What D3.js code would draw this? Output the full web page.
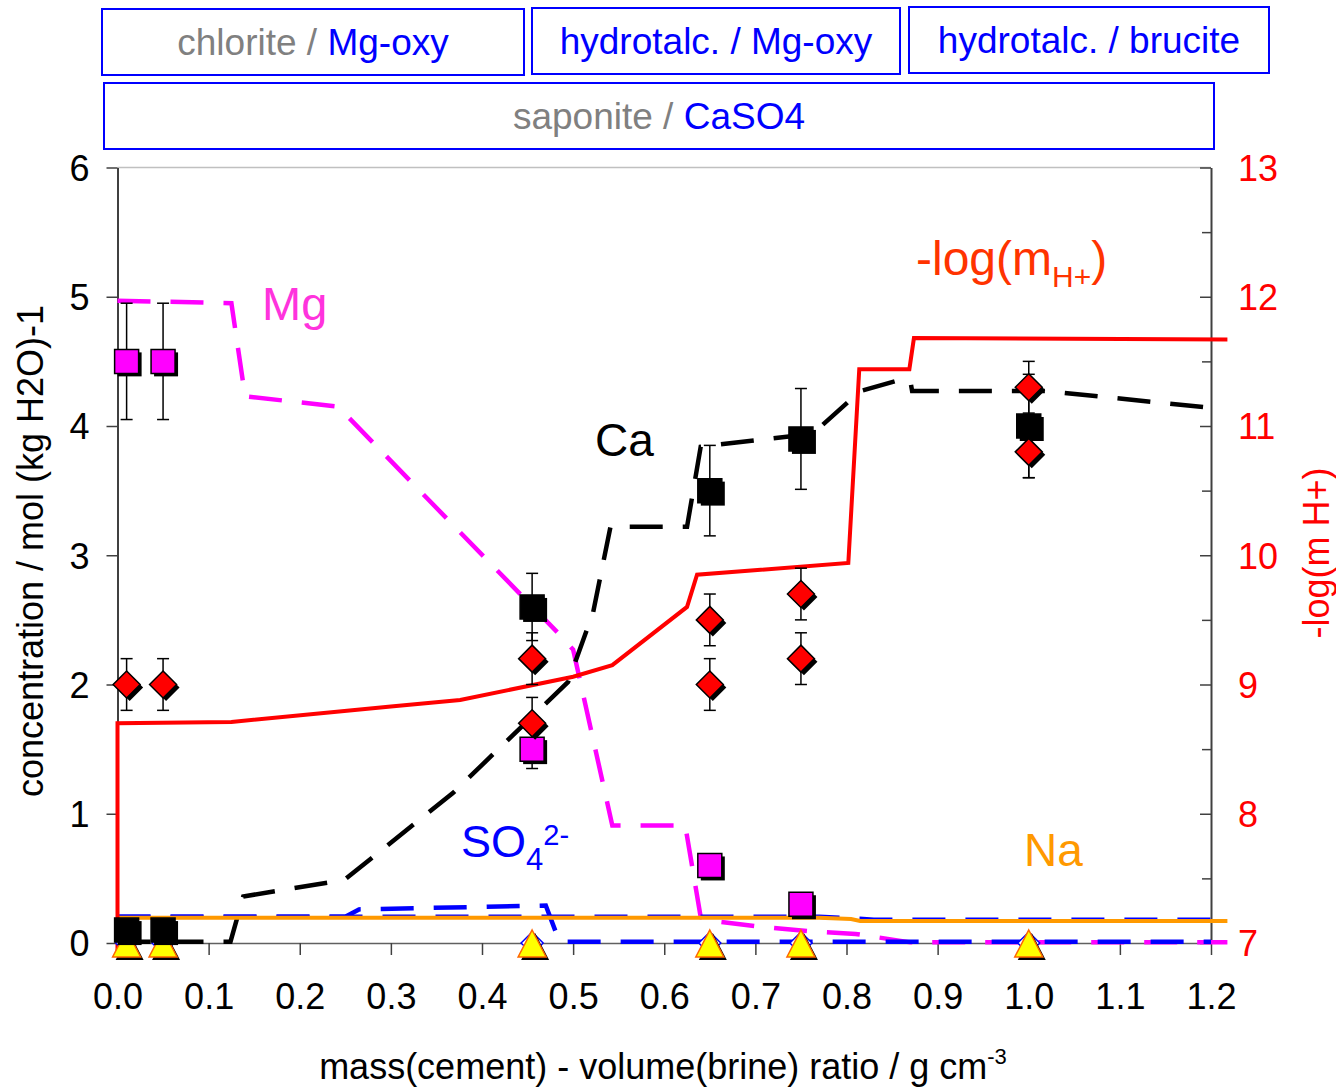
<!DOCTYPE html>
<html>
<head>
<meta charset="utf-8">
<script src="https://cdn.jsdelivr.net/npm/d3@7"></script>
<style>
  html, body { margin: 0; padding: 0; background: #fff; }
  svg { display: block; font-family: "Liberation Sans", Arial, Helvetica, sans-serif; }
</style>
</head>
<body>
<svg id="chart" width="1336" height="1088"></svg>
<script>
// ---------- axis ticks ----------
const xTickValues = [0, 0.1, 0.2, 0.3, 0.4, 0.5, 0.6, 0.7, 0.8, 0.9, 1.0, 1.1, 1.2];
const xTickLabels = ["0.0", "0.1", "0.2", "0.3", "0.4", "0.5", "0.6", "0.7", "0.8", "0.9", "1.0", "1.1", "1.2"];
const yLeftTicks = [0, 1, 2, 3, 4, 5, 6];
const yRightTicks = [7, 8, 9, 10, 11, 12, 13];
const yRightMinorTicks = [7.5, 8.5, 9.5, 10.5, 11.5, 12.5];

// ---------- phase assemblage labels ----------
// each entry: [grey part, blue part]
const phaseLabels = [
  ["chlorite / ", "Mg-oxy"],
  ["", "hydrotalc. / Mg-oxy"],
  ["", "hydrotalc. / brucite"],
  ["saponite / ", "CaSO4"]
];

// ---------- model curves: [ratio, value] ----------
const mgModel = [[0, 4.97], [0.125, 4.95], [0.14, 4.23], [0.242, 4.15], [0.486, 2.38], [0.5, 2.27],
  [0.543, 0.91], [0.623, 0.91], [0.64, 0.2], [0.66, 0.165], [0.7, 0.13], [0.76, 0.09], [0.81, 0.07],
  [0.87, 0.005], [1.218, 0.005]];
const caModel = [[0, 0.01], [0.124, 0.01], [0.138, 0.36], [0.249, 0.488], [0.368, 1.16], [0.4945, 2.02],
  [0.522, 2.56], [0.541, 3.22], [0.625, 3.22], [0.64, 3.84], [0.763, 3.94], [0.815, 4.27],
  [0.855, 4.35], [0.87, 4.35], [0.872, 4.27], [1.02, 4.27], [1.2, 4.14]];
const so4Model = [[0, 0.204], [0.25, 0.204], [0.265, 0.26], [0.47, 0.29], [0.485, 0.01], [1.2, 0.01]];
const flatBlueModel = [[0, 0.204], [0.77, 0.204], [0.81, 0.19], [0.83, 0.18], [1.2, 0.18]];
const naModel = [[0, 0.196], [0.77, 0.195], [0.805, 0.185], [0.815, 0.17], [1.218, 0.17]];
// -log(mH+) on the right axis
const phModel = [[0, 6.92], [0, 8.70], [0.125, 8.71], [0.3, 8.83], [0.376, 8.88], [0.5, 9.06],
  [0.543, 9.15], [0.625, 9.6], [0.636, 9.85], [0.802, 9.94], [0.814, 11.44], [0.869, 11.44],
  [0.874, 11.68], [1.218, 11.67]];

// ---------- measured samples: [ratio, value, error] ----------
const mgMeasured = [[0.01, 4.5, 0.45], [0.05, 4.5, 0.45], [0.455, 1.5, 0.15], [0.65, 0.6, 0.06], [0.75, 0.3, 0.03]];
const caMeasured = [[0.01, 0.1, 0.01], [0.05, 0.1, 0.01], [0.455, 2.6, 0.26], [0.65, 3.5, 0.35], [0.75, 3.9, 0.39], [1.0, 4.0, 0.4]];
const phMeasured = [[0.01, 9.0, 0.2], [0.05, 9.0, 0.2], [0.455, 9.2, 0.2], [0.455, 8.7, 0.2],
  [0.65, 9.5, 0.2], [0.65, 9.0, 0.2], [0.75, 9.7, 0.2], [0.75, 9.2, 0.2], [1.0, 11.3, 0.2], [1.0, 10.8, 0.2]];
const triangleMeasured = [[0.01, 0], [0.05, 0], [0.455, 0], [0.65, 0], [0.75, 0], [1.0, 0]];
const openDiamondMeasured = [[0.01, 0], [0.05, 0], [0.455, 0], [0.65, 0], [0.75, 0], [1.0, 0]];

// ---------- drawing ----------
const FONT_TICK = 36;
const svg = d3.select("#chart");

const x = d3.scaleLinear().domain([0, 1.2]).range([117.5, 1211]);
const yL = d3.scaleLinear().domain([0, 6]).range([943, 167.5]);
const yR = d3.scaleLinear().domain([7, 13]).range([943, 167.5]);

// phase assemblage boxes
const boxLayout = [
  { x: 102, y: 9, w: 422, h: 66 },
  { x: 532, y: 8, w: 368, h: 66 },
  { x: 909, y: 7, w: 360, h: 66 },
  { x: 104, y: 83, w: 1110, h: 66 }
];
phaseLabels.forEach((lab, i) => {
  const b = boxLayout[i];
  svg.append("rect").attr("x", b.x).attr("y", b.y).attr("width", b.w).attr("height", b.h)
    .attr("fill", "#fff").attr("stroke", "#0000ff").attr("stroke-width", 2);
  const t = svg.append("text").attr("x", b.x + b.w / 2).attr("y", b.y + b.h / 2 + 13)
    .attr("text-anchor", "middle").attr("font-size", 37);
  if (lab[0]) t.append("tspan").attr("fill", "#808080").text(lab[0]);
  t.append("tspan").attr("fill", "#0000ff").text(lab[1]);
});

// frame top line
svg.append("line").attr("x1", x(0)).attr("x2", x(1.2)).attr("y1", yL(6)).attr("y2", yL(6))
  .attr("stroke", "#c0c0c0").attr("stroke-width", 1.5);

// left axis
const gLeft = svg.append("g").attr("transform", `translate(${x(0)},0)`)
  .call(d3.axisLeft(yL).tickValues(yLeftTicks).tickSize(11).tickSizeOuter(0).tickPadding(17).tickFormat(d3.format("d")));
gLeft.select(".domain").attr("stroke", "#404040").attr("stroke-width", 2);
gLeft.selectAll(".tick line").attr("stroke", "#404040").attr("stroke-width", 1.5);
gLeft.selectAll(".tick text").attr("font-size", FONT_TICK).attr("font-family", null).attr("fill", "#000").attr("dy", "0.36em");

// right axis (ticks point inwards)
const gRight = svg.append("g").attr("transform", `translate(${x(1.2)},0)`)
  .call(d3.axisRight(yR).tickValues(yRightTicks).tickSize(-11).tickSizeOuter(0).tickPadding(27).tickFormat(d3.format("d")));
gRight.select(".domain").attr("stroke", "#404040").attr("stroke-width", 2);
gRight.selectAll(".tick line").attr("stroke", "#404040").attr("stroke-width", 1.5);
gRight.selectAll(".tick text").attr("font-size", FONT_TICK).attr("font-family", null).attr("fill", "#ff0000").attr("dy", "0.36em");
const gRightMinor = svg.append("g").attr("transform", `translate(${x(1.2)},0)`)
  .call(d3.axisRight(yR).tickValues(yRightMinorTicks).tickSize(-9).tickSizeOuter(0).tickFormat(""));
gRightMinor.select(".domain").remove();
gRightMinor.selectAll(".tick line").attr("stroke", "#404040").attr("stroke-width", 1.5);

// bottom axis
const gBottom = svg.append("g").attr("transform", `translate(0,${yL(0)})`)
  .call(d3.axisBottom(x).tickValues(xTickValues).tickSize(12).tickSizeOuter(0).tickPadding(28)
    .tickFormat((d, i) => xTickLabels[i]));
gBottom.select(".domain").attr("stroke", "#606060").attr("stroke-width", 1.5);
gBottom.selectAll(".tick line").attr("stroke", "#404040").attr("stroke-width", 1.5);
gBottom.selectAll(".tick text").attr("font-size", FONT_TICK).attr("font-family", null).attr("fill", "#000");

// axis titles
svg.append("text").attr("transform", "translate(43,551) rotate(-90)").attr("text-anchor", "middle")
  .attr("font-size", 36).attr("fill", "#000").text("concentration / mol (kg H2O)-1");
svg.append("text").attr("transform", "translate(1329,553) rotate(-90)").attr("text-anchor", "middle")
  .attr("font-size", 36).attr("fill", "#ff0000").text("-log(m H+)");
const xt = svg.append("text").attr("x", 663).attr("y", 1079).attr("text-anchor", "middle")
  .attr("font-size", 36).attr("fill", "#000");
xt.append("tspan").text("mass(cement) - volume(brine) ratio / g cm");
xt.append("tspan").attr("font-size", 22).attr("dy", -15).text("-3");

// model curves
const lineL = d3.line().x(d => x(d[0])).y(d => yL(d[1]));
const lineR = d3.line().x(d => x(d[0])).y(d => yR(d[1]));
function curve(data, gen, color, dashed) {
  svg.append("path").attr("d", gen(data)).attr("fill", "none").attr("stroke", color)
    .attr("stroke-width", dashed ? 4.5 : 4).attr("stroke-linejoin", "miter")
    .attr("stroke-dasharray", dashed ? "33,20" : null);
}
curve(mgModel, lineL, "#ff00ff", true);
curve(caModel, lineL, "#000000", true);
curve(so4Model, lineL, "#0000ff", true);
curve(flatBlueModel, lineL, "#0000ff", true);
curve(naModel, lineL, "#ff9900", false);
curve(phModel, lineR, "#ff0000", false);

// error bars
function errorBars(data, yScale) {
  const g = svg.append("g").attr("stroke", "#000").attr("stroke-width", 1.5);
  data.forEach(d => {
    const cx = x(d[0]), y1 = yScale(d[1] - d[2]), y2 = yScale(d[1] + d[2]);
    g.append("line").attr("x1", cx).attr("x2", cx).attr("y1", y1).attr("y2", y2);
    g.append("line").attr("x1", cx - 6).attr("x2", cx + 6).attr("y1", y1).attr("y2", y1);
    g.append("line").attr("x1", cx - 6).attr("x2", cx + 6).attr("y1", y2).attr("y2", y2);
  });
}
errorBars(caMeasured, yL);
errorBars(mgMeasured, yL);
errorBars(phMeasured, yR);

// markers with drop shadow
const SH = 3;
function markers(data, yScale, pathFn, fill, stroke) {
  const g = svg.append("g");
  data.forEach(d => {
    const cx = x(d[0]), cy = yScale(d[1]);
    g.append("path").attr("d", pathFn(cx + SH, cy + SH)).attr("fill", "#000");
    g.append("path").attr("d", pathFn(cx, cy)).attr("fill", fill)
      .attr("stroke", stroke).attr("stroke-width", 1.5).attr("stroke-linejoin", "miter");
  });
}
const squarePath = (cx, cy) => `M${cx - 12},${cy - 12}h24v24h-24Z`;
const diamondPath = (cx, cy) => `M${cx},${cy - 13.5}L${cx + 13.5},${cy}L${cx},${cy + 13.5}L${cx - 13.5},${cy}Z`;
const trianglePath = (cx, cy) => `M${cx},${cy - 13}L${cx + 14},${cy + 14}L${cx - 14},${cy + 14}Z`;
const smallDiamondPath = (cx, cy) => `M${cx},${cy - 11}L${cx + 11},${cy}L${cx},${cy + 11}L${cx - 11},${cy}Z`;

// open diamonds sit behind the triangles
openDiamondMeasured.forEach(d => {
  svg.append("path").attr("d", smallDiamondPath(x(d[0]), yL(d[1])))
    .attr("fill", "#fff").attr("stroke", "#0000ff").attr("stroke-width", 1.5);
});
markers(triangleMeasured, yL, trianglePath, "#ffff00", "#ff6600");
markers(mgMeasured, yL, squarePath, "#ff00ff", "#000");
markers(caMeasured, yL, squarePath, "#000", "#000");
markers(phMeasured, yR, diamondPath, "#ff0000", "#000");

// series labels
svg.append("text").attr("x", 262).attr("y", 320).attr("font-size", 47).attr("fill", "#ff33dd").text("Mg");
svg.append("text").attr("x", 595).attr("y", 456).attr("font-size", 46).attr("fill", "#000").text("Ca");
svg.append("text").attr("x", 1024).attr("y", 866).attr("font-size", 46).attr("fill", "#ff9900").text("Na");
const so4 = svg.append("text").attr("x", 461).attr("y", 857).attr("font-size", 45).attr("fill", "#0000ff");
so4.append("tspan").text("SO");
so4.append("tspan").attr("font-size", 31).attr("dy", 13).text("4");
so4.append("tspan").attr("font-size", 29).attr("dy", -25).text("2-");
const ph = svg.append("text").attr("x", 916).attr("y", 275).attr("font-size", 48).attr("fill", "#ff3300");
ph.append("tspan").text("-log(m");
ph.append("tspan").attr("font-size", 30).attr("dy", 12).text("H+");
ph.append("tspan").attr("dy", -12).text(")");
</script>
</body>
</html>
